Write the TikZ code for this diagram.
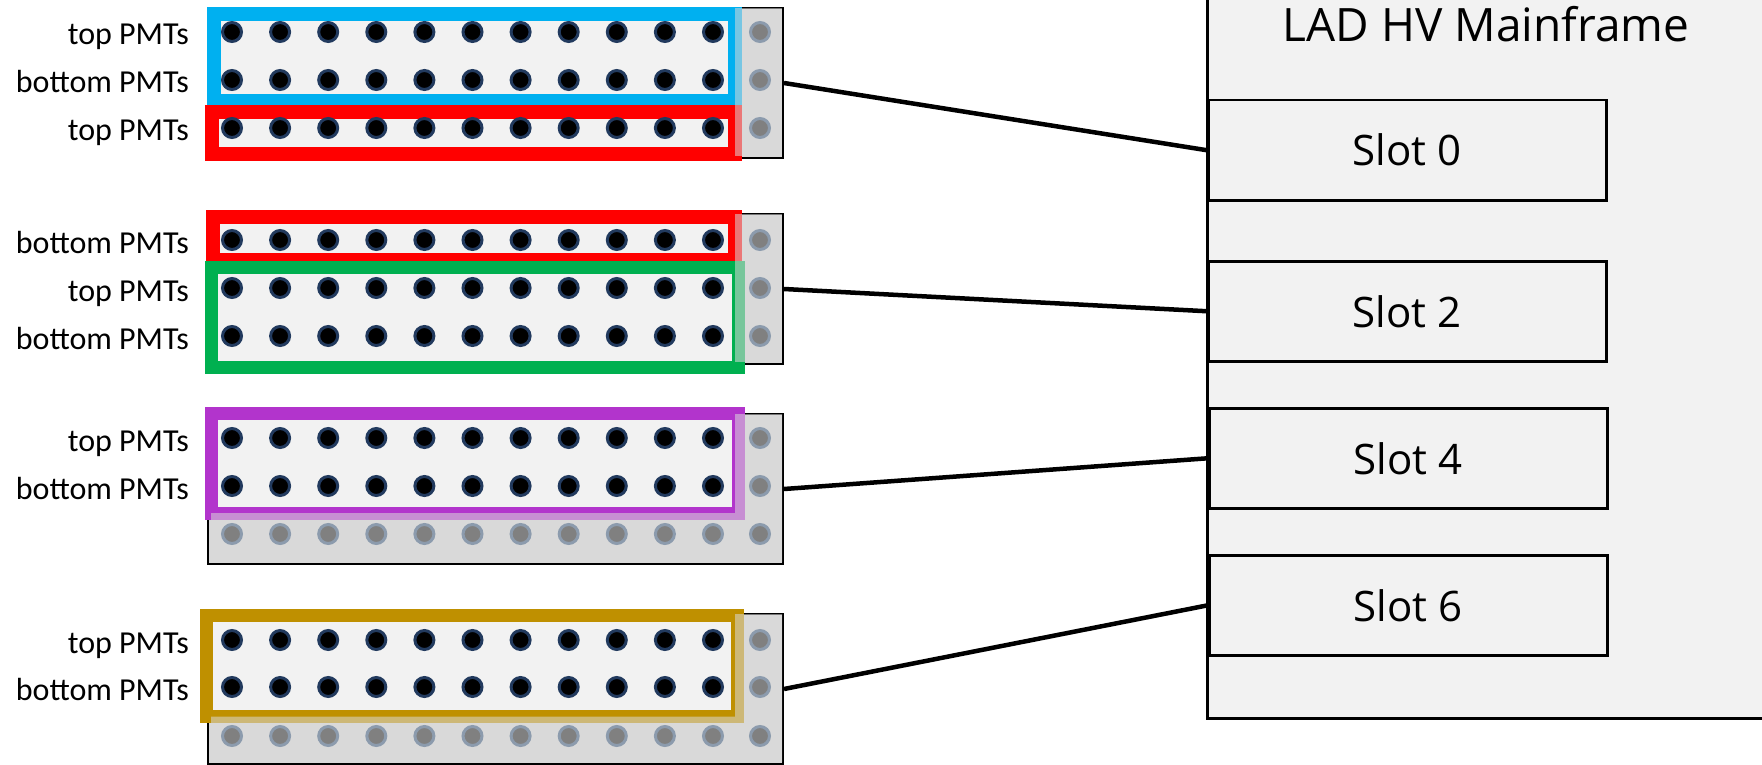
\documentclass[tikz,border=0pt]{standalone}
\usepackage{fontspec}
\setmainfont{Carlito}
\newfontfamily\hvfont{Open Sans}
\definecolor{panelgray}{HTML}{D9D9D9}
\definecolor{innergray}{HTML}{F2F2F2}
\definecolor{pmtedge}{HTML}{223A5E}
\definecolor{sparefill}{HTML}{808080}
\definecolor{spareedge}{HTML}{8C9BAD}
\definecolor{frameblue}{HTML}{00B0F0}
\definecolor{framered}{HTML}{FF0000}
\definecolor{framegreen}{HTML}{00B050}
\definecolor{framepurple}{HTML}{B234CC}
\definecolor{framegold}{HTML}{BF9000}
\tikzset{
  {panel/.style} = {draw=black, line width=2pt, fill=panelgray, inner sep=0,
                    minimum width=575pt, minimum height=150pt, anchor=north west},
  {pmtframe/.style} = {draw=#1, line width=14pt, fill=innergray},
  {cover/.style} = {fill=panelgray, opacity=.55},
  pmt/.style = {circle, draw=pmtedge, fill=black, line width=3pt,
                minimum size=19pt, inner sep=0},
  {spare/.style} = {pmt, draw=spareedge, fill=sparefill},
  {rowlabel/.style} = {anchor=base east, inner sep=0, font=\fontsize{32}{32}\selectfont},
  {crate/.style} = {draw, line width=3pt, fill=innergray, anchor=north west,
                    minimum width=600pt, minimum height=740pt},
  {slot/.style} = {draw, line width=2.5pt, fill=innergray, anchor=north west,
                   minimum width=398pt, minimum height=100pt,
                   font=\hvfont\fontsize{42}{42}\selectfont},
  cable/.style = {line width=4.5pt},
}
\begin{document}
\begin{tikzpicture}[x=1pt,y=-1pt]
\useasboundingbox (0,0) rectangle (1762,765);
\clip (0,0) rectangle (1762,765);
% HV mainframe with its slots
\node[crate] (hv) at (1206,-23) {};
\node[font=\hvfont\fontsize{46}{46}\selectfont, anchor=base] (hvtitle) at (1486,42) {LAD HV Mainframe};
\node[slot] (slot0) at (1207,99) {Slot 0};
\node[slot] (slot2) at (1207,260) {Slot 2};
\node[slot] (slot4) at (1208,407) {Slot 4};
\node[slot] (slot6) at (1208,554) {Slot 6};
% connector panels
\foreach \g/\top in {1/7, 2/213, 3/413, 4/613}{
  \node[panel] (panel\g) at (207,\top) {};
}
\draw[pmtframe=frameblue] (214,14) rectangle (735,101);
\draw[pmtframe=framered] (212,112) rectangle (735,154);
\draw[pmtframe=framered] (213,217) rectangle (735,260);
\draw[pmtframe=framegreen, line width=13pt] (211,267) rectangle (738,367);
\draw[pmtframe=framepurple, line width=13pt] (211.5,413.5) rectangle (738,513);
\draw[pmtframe=framegold, line width=13pt] (206.5,615.5) rectangle (737,716.5);
% unused part of the panels
\fill[cover] (735,8) rectangle (782,156);
\fill[cover] (735,214) rectangle (782,362);
\fill[cover] (735,414) rectangle (782,562) (211,513) rectangle (735,562);
\fill[cover] (735,614) rectangle (782,762) (211,716.5) rectangle (735,762);
% PMT connectors
\foreach \g/\ya/\yb/\yc/\lastfill/\lastedge in
    {1/32/80/128/black/pmtedge, 2/240/288/336/black/pmtedge,
     3/438/486/534/sparefill/spareedge, 4/640/687/736/sparefill/spareedge}{
  \foreach \c in {0,...,10}{
    \node[pmt] (pmt\g-1-\c) at ({232+48.1*\c},\ya) {};
    \node[pmt] (pmt\g-2-\c) at ({232+48.1*\c},\yb) {};
    \node[pmt, fill=\lastfill, draw=\lastedge] (pmt\g-3-\c) at ({232+48.1*\c},\yc) {};
  }
  \foreach \r/\y in {1/\ya, 2/\yb, 3/\yc}{
    \node[spare] (spare\g-\r) at (760,\y) {};
  }
}
% row labels
\node[rowlabel] (lab1a) at (189,45) {top PMTs};
\node[rowlabel] (lab1b) at (189,93) {bottom PMTs};
\node[rowlabel] (lab1c) at (189,141) {top PMTs};
\node[rowlabel] (lab2a) at (189,253) {bottom PMTs};
\node[rowlabel] (lab2b) at (189,301) {top PMTs};
\node[rowlabel] (lab2c) at (189,349) {bottom PMTs};
\node[rowlabel] (lab3a) at (189,451) {top PMTs};
\node[rowlabel] (lab3b) at (189,499) {bottom PMTs};
\node[rowlabel] (lab4a) at (189,653) {top PMTs};
\node[rowlabel] (lab4b) at (189,700) {bottom PMTs};
% HV cables
\draw[cable] (panel1.east) -- (slot0.west);
\draw[cable] (panel2.east) -- (slot2.west);
\draw[cable] (panel3.east) -- (slot4.west);
\draw[cable] (panel4.east) -- (slot6.west);
\end{tikzpicture}
\end{document}
